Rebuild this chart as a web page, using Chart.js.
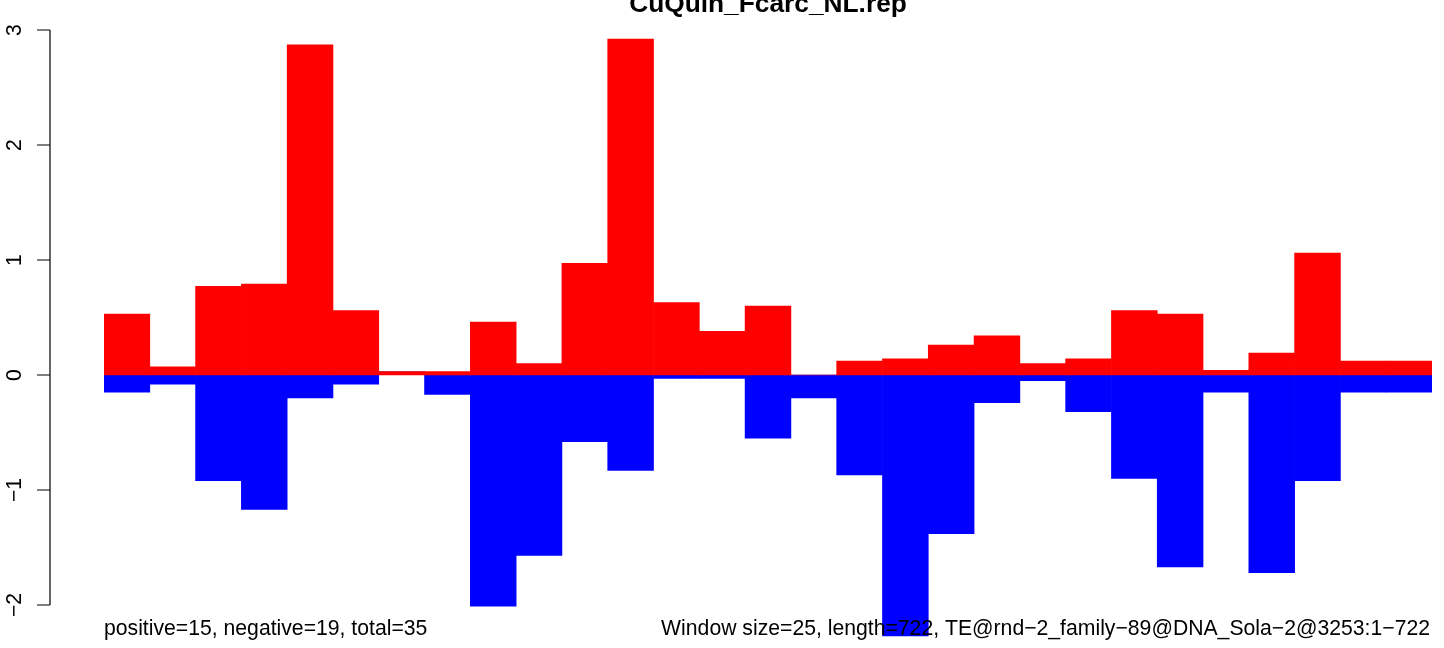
<!DOCTYPE html>
<html>
<head>
<meta charset="utf-8">
<title>CuQuin_Fcarc_NL.rep</title>
<script src="https://cdn.jsdelivr.net/npm/chart.js@4"></script>
<style>
    body { margin: 0; background: #ffffff; }
    canvas { display: block; }
</style>
</head>
<body>
<canvas id="myChart" width="1444" height="648"></canvas>
<script>
// window index along the TE (29 windows of 25 bp)
const windows = ['1', '2', '3', '4', '5', '6', '7', '8', '9', '10', '11', '12', '13', '14', '15',
    '16', '17', '18', '19', '20', '21', '22', '23', '24', '25', '26', '27', '28', '29'];
const positive = [0.53, 0.07, 0.77, 0.79, 2.87, 0.56, 0.03, 0.03, 0.46, 0.10, 0.97, 2.92, 0.63, 0.38, 0.60,
    0.0, 0.12, 0.14, 0.26, 0.34, 0.10, 0.14, 0.56, 0.53, 0.04, 0.19, 1.06, 0.12, 0.12];
const negative = [-0.15, -0.08, -0.92, -1.17, -0.20, -0.08, 0.0, -0.17, -2.01, -1.57, -0.58, -0.83, -0.03, -0.03, -0.55,
    -0.20, -0.87, -2.27, -1.38, -0.24, -0.05, -0.32, -0.90, -1.67, -0.15, -1.72, -0.92, -0.15, -0.15];
const yTicks = [-2, -1, 0, 1, 2, 3];

const mainTitle = 'CuQuin_Fcarc_NL.rep';
const leftNote = 'positive=15, negative=19, total=35';
const rightNote = 'Window size=25, length=722, TE@rnd\u22122_family\u221289@DNA_Sola\u22122@3253:1\u2212722';

// R style axis and texts
const rDecor = {
    id: 'rDecor',
    afterDraw: function (chart) {
        const ctx = chart.ctx;
        const y = chart.scales.y;
        const area = chart.chartArea;
        const axisX = 50;
        ctx.save();
        ctx.strokeStyle = '#000000';
        ctx.lineWidth = 1.2;
        ctx.beginPath();
        ctx.moveTo(axisX, y.getPixelForValue(yTicks[0]));
        ctx.lineTo(axisX, y.getPixelForValue(yTicks[yTicks.length - 1]));
        yTicks.forEach(function (t) {
            const py = y.getPixelForValue(t);
            ctx.moveTo(axisX - 13, py);
            ctx.lineTo(axisX, py);
        });
        ctx.stroke();

        ctx.fillStyle = '#000000';
        ctx.font = '21.2px "Liberation Sans", Arial, sans-serif';
        ctx.textAlign = 'center';
        ctx.textBaseline = 'alphabetic';
        yTicks.forEach(function (t) {
            const py = y.getPixelForValue(t);
            ctx.save();
            ctx.translate(21, py);
            ctx.rotate(-Math.PI / 2);
            ctx.fillText(String(t).replace('-', '\u2212'), 0, 0);
            ctx.restore();
        });

        ctx.textAlign = 'left';
        ctx.fillText(leftNote, area.left, 635);
        ctx.textAlign = 'right';
        ctx.fillText(rightNote, area.right - 2, 635);

        ctx.font = 'bold 26.3px "Liberation Sans", Arial, sans-serif';
        ctx.textAlign = 'center';
        ctx.fillText(mainTitle, (area.left + area.right) / 2, 12);
        ctx.restore();
    }
};

const ctx = document.getElementById('myChart');

new Chart(ctx, {
    type: 'bar',
    data: {
        labels: windows,
        datasets: [{
            label: 'positive',
            data: positive,
            backgroundColor: '#FF0000',
            borderWidth: 0,
            barPercentage: 1,
            categoryPercentage: 1
        }, {
            label: 'negative',
            data: negative,
            backgroundColor: '#0000FF',
            borderWidth: 0,
            barPercentage: 1,
            categoryPercentage: 1
        }]
    },
    options: {
        responsive: false,
        animation: false,
        layout: {
            padding: { left: 104, right: 12, top: 30, bottom: 0 }
        },
        plugins: {
            legend: { display: false },
            title: { display: false },
            tooltip: { enabled: false }
        },
        scales: {
            x: {
                display: false,
                stacked: true
            },
            y: {
                display: false,
                stacked: true,
                min: -2.374,
                max: 3
            }
        }
    },
    plugins: [rDecor]
});
</script>
</body>
</html>
